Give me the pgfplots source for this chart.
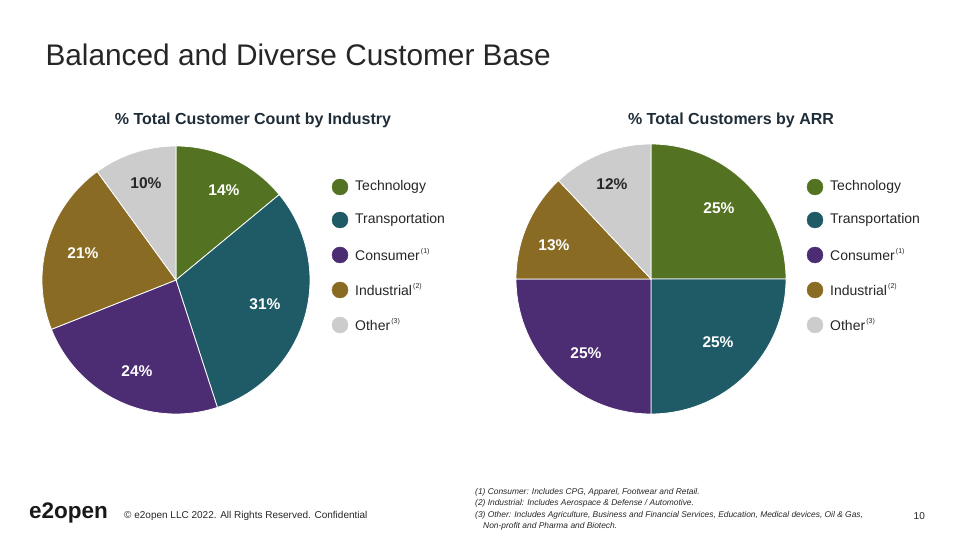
\documentclass[border=0pt]{standalone}
\usepackage{pgfplots}
\pgfplotsset{compat=1.18}
\usepackage{fontspec}
\setmainfont{Liberation Sans}
\definecolor{ctech}{HTML}{537322}
\definecolor{ctrans}{HTML}{1E5B66}
\definecolor{ccons}{HTML}{4C2C72}
\definecolor{cind}{HTML}{8A6B24}
\definecolor{coth}{HTML}{CCCCCC}
\definecolor{ctxt}{HTML}{262626}
\definecolor{csub}{HTML}{1F2D38}
\newcommand{\fn}[1]{\raisebox{7pt}{\fontsize{7}{8}\selectfont\,#1}}
\begin{document}
\begin{tikzpicture}
\begin{axis}[
  width=960pt, height=540pt, scale only axis,
  xmin=0, xmax=960, ymin=0, ymax=540,
  hide axis, clip=false,
  samples=80, variable=\t,
]
% ---------- Pie 1: % Total Customer Count by Industry (14,31,24,21,10) ----------
\addplot[fill=ctech, draw=white, line width=0.8pt, domain={90-3.6*14}:{90-3.6*0}] ({176+134*cos(\t)},{260+134*sin(\t)}) -- (axis cs:176,260) -- cycle;
\addplot[fill=ctrans, draw=white, line width=0.8pt, domain={90-3.6*45}:{90-3.6*14}] ({176+134*cos(\t)},{260+134*sin(\t)}) -- (axis cs:176,260) -- cycle;
\addplot[fill=ccons, draw=white, line width=0.8pt, domain={90-3.6*69}:{90-3.6*45}] ({176+134*cos(\t)},{260+134*sin(\t)}) -- (axis cs:176,260) -- cycle;
\addplot[fill=cind, draw=white, line width=0.8pt, domain={90-3.6*90}:{90-3.6*69}] ({176+134*cos(\t)},{260+134*sin(\t)}) -- (axis cs:176,260) -- cycle;
\addplot[fill=coth, draw=white, line width=0.8pt, domain={90-3.6*100}:{90-3.6*90}] ({176+134*cos(\t)},{260+134*sin(\t)}) -- (axis cs:176,260) -- cycle;
% ---------- Pie 2: % Total Customers by ARR (25,25,25,13,12) ----------
\addplot[fill=ctech, draw=white, line width=0.8pt, domain={90-3.6*25}:{90-3.6*0}] ({651+135*cos(\t)},{261+135*sin(\t)}) -- (axis cs:651,261) -- cycle;
\addplot[fill=ctrans, draw=white, line width=0.8pt, domain={90-3.6*50}:{90-3.6*25}] ({651+135*cos(\t)},{261+135*sin(\t)}) -- (axis cs:651,261) -- cycle;
\addplot[fill=ccons, draw=white, line width=0.8pt, domain={90-3.6*75}:{90-3.6*50}] ({651+135*cos(\t)},{261+135*sin(\t)}) -- (axis cs:651,261) -- cycle;
\addplot[fill=cind, draw=white, line width=0.8pt, domain={90-3.6*88}:{90-3.6*75}] ({651+135*cos(\t)},{261+135*sin(\t)}) -- (axis cs:651,261) -- cycle;
\addplot[fill=coth, draw=white, line width=0.8pt, domain={90-3.6*100}:{90-3.6*88}] ({651+135*cos(\t)},{261+135*sin(\t)}) -- (axis cs:651,261) -- cycle;
% ---------- Legend markers ----------
\addplot[only marks, mark=*, mark size=8pt, color=ctech] coordinates {(340,353) (815,353)};
\addplot[only marks, mark=*, mark size=8pt, color=ctrans] coordinates {(340,320) (815,320)};
\addplot[only marks, mark=*, mark size=8pt, color=ccons] coordinates {(340,285) (815,285)};
\addplot[only marks, mark=*, mark size=8pt, color=cind] coordinates {(340,250) (815,250)};
\addplot[only marks, mark=*, mark size=8pt, color=coth] coordinates {(340,215) (815,215)};
% ---------- Text ----------
\node[anchor=west, text=ctxt, font=\fontsize{29.8}{34}\selectfont] at (axis cs:42,485) {Balanced and Diverse Customer Base};
\node[text=csub, font=\fontsize{16}{19}\selectfont\bfseries] at (axis cs:253,420) {\% Total Customer Count by Industry};
\node[text=csub, font=\fontsize{16}{19}\selectfont\bfseries] at (axis cs:731,420) {\% Total Customers by ARR};
% slice labels
\begin{scope}[every node/.style={font=\fontsize{15.5}{18}\selectfont\bfseries, text=white}]
\node at (axis cs:224,350) {14\%};
\node at (axis cs:265,236) {31\%};
\node at (axis cs:137,169) {24\%};
\node at (axis cs:83,287) {21\%};
\node[text=ctxt] at (axis cs:146,357) {10\%};
\node at (axis cs:719,332) {25\%};
\node at (axis cs:718,198) {25\%};
\node at (axis cs:586,187) {25\%};
\node at (axis cs:554,295) {13\%};
\node[text=ctxt] at (axis cs:612,356) {12\%};
\end{scope}
% legend text
\begin{scope}[every node/.style={anchor=west, font=\fontsize{14}{16}\selectfont, text=ctxt, inner sep=0pt}]
\node at (axis cs:355,353) {Technology};
\node at (axis cs:355,320) {Transportation};
\node at (axis cs:355,285) {Consumer\fn{(1)}};
\node at (axis cs:355,250) {Industrial\fn{(2)}};
\node at (axis cs:355,215) {Other\fn{(3)}};
\node at (axis cs:830,353) {Technology};
\node at (axis cs:830,320) {Transportation};
\node at (axis cs:830,285) {Consumer\fn{(1)}};
\node at (axis cs:830,250) {Industrial\fn{(2)}};
\node at (axis cs:830,215) {Other\fn{(3)}};
\end{scope}
% footer
\node[anchor=west, inner sep=0pt, text=black!90, font=\fontsize{22.5}{26}\selectfont\bfseries] at (axis cs:29,27) {e2open};
\node[anchor=west, inner sep=0pt, text=ctxt, font=\fontsize{10}{12}\selectfont] at (axis cs:124,24) {\textcopyright{} e2open LLC 2022. All Rights Reserved. Confidential};
\node[anchor=east, inner sep=0pt, text=ctxt, font=\fontsize{10}{12}\selectfont] at (axis cs:925,24) {10};
\begin{scope}[every node/.style={anchor=west, inner sep=0pt, text=ctxt, font=\fontsize{8.4}{10}\selectfont\itshape}]
\node at (axis cs:475,48) {(1) Consumer: Includes CPG, Apparel, Footwear and Retail.};
\node at (axis cs:475,37) {(2) Industrial: Includes Aerospace \& Defense / Automotive.};
\node at (axis cs:475,25) {(3) Other: Includes Agriculture, Business and Financial Services, Education, Medical devices, Oil \& Gas,};
\node at (axis cs:483,14) {Non-profit and Pharma and Biotech.};
\end{scope}
\end{axis}
\pgfresetboundingbox
\path (0,0) rectangle (960pt,540pt);
\end{tikzpicture}
\end{document}
